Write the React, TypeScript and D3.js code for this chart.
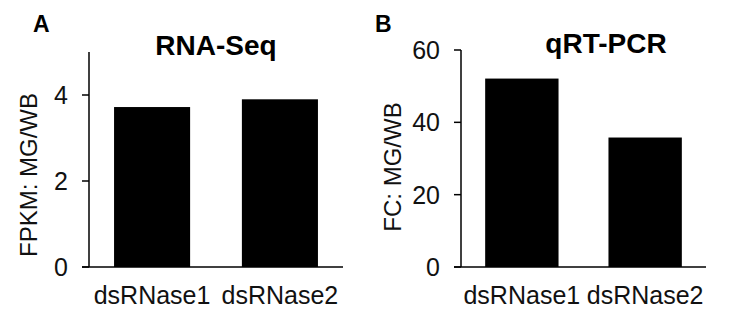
import React from "react";
import * as d3 from "d3";

const genes = ["dsRNase1", "dsRNase2"];
const rnaSeqValues = [3.72, 3.9];
const qpcrValues = [52.1, 35.8];
const rnaSeqTicks = [0, 2, 4];
const qpcrTicks = [0, 20, 40, 60];

const FONT = "'Liberation Sans', Arial, sans-serif";

interface PanelProps {
    letter: string;
    title: string;
    yLabel: string;
    values: number[];
    ticks: number[];
    yMax: number;
    x0: number;
    x1: number;
    yTop: number;
    yBottom: number;
    titleX: number;
    titleY: number;
    letterX: number;
    yLabelX: number;
    yLabelY: number;
}

const Panel: React.FC<PanelProps> = (p) => {
    const y = d3.scaleLinear().domain([0, p.yMax]).range([p.yBottom, p.yTop]);
    const x = d3
        .scaleBand<string>()
        .domain(genes)
        .range([p.x0, p.x1])
        .paddingInner(0.405)
        .paddingOuter(0.196);

    return (
        <g>
            <text x={p.letterX} y={32} fontSize={23} fontWeight="bold" fontFamily={FONT}>
                {p.letter}
            </text>
            <text
                x={p.titleX}
                y={p.titleY}
                textAnchor="middle"
                fontSize={28}
                fontWeight="bold"
                fontFamily={FONT}
            >
                {p.title}
            </text>
            {genes.map((g, i) => (
                <rect
                    key={g}
                    x={x(g)}
                    y={y(p.values[i])}
                    width={x.bandwidth()}
                    height={y(0) - y(p.values[i])}
                    fill="#000"
                />
            ))}
            <line x1={p.x0} x2={p.x0} y1={p.yTop} y2={p.yBottom} stroke="#000" strokeWidth={1.5} />
            <line x1={p.x0 - 7} x2={p.x1} y1={p.yBottom} y2={p.yBottom} stroke="#000" strokeWidth={1.5} />
            {p.ticks.map((t) => (
                <g key={t}>
                    <line x1={p.x0 - 7} x2={p.x0} y1={y(t)} y2={y(t)} stroke="#000" strokeWidth={1.5} />
                    <text
                        x={p.x0 - 21}
                        y={y(t)}
                        dy="0.36em"
                        textAnchor="end"
                        fontSize={25}
                        fontFamily={FONT}
                        fill="#111"
                    >
                        {t}
                    </text>
                </g>
            ))}
            {genes.map((g) => (
                <text
                    key={g}
                    x={(x(g) ?? 0) + x.bandwidth() / 2}
                    y={304}
                    textAnchor="middle"
                    fontSize={25}
                    fontFamily={FONT}
                    fill="#111"
                >
                    {g}
                </text>
            ))}
            <text
                transform={`translate(${p.yLabelX},${p.yLabelY}) rotate(-90)`}
                textAnchor="middle"
                fontSize={24}
                fontFamily={FONT}
                fill="#111"
            >
                {p.yLabel}
            </text>
        </g>
    );
};

const App: React.FC = () => {
    return (
        <svg
            width={752}
            height={320}
            style={{ position: "absolute", left: 0, top: 0, background: "#fff" }}
        >
            <Panel
                letter="A"
                title="RNA-Seq"
                yLabel="FPKM: MG/WB"
                values={rnaSeqValues}
                ticks={rnaSeqTicks}
                yMax={5}
                x0={89}
                x1={343}
                yTop={52}
                yBottom={267}
                titleX={216}
                titleY={55}
                letterX={33}
                yLabelX={37}
                yLabelY={175}
            />
            <Panel
                letter="B"
                title="qRT-PCR"
                yLabel="FC: MG/WB"
                values={qpcrValues}
                ticks={qpcrTicks}
                yMax={60}
                x0={461}
                x1={706}
                yTop={50}
                yBottom={267}
                titleX={606}
                titleY={53}
                letterX={375}
                yLabelX={401}
                yLabelY={167}
            />
        </svg>
    );
};

export default App;
